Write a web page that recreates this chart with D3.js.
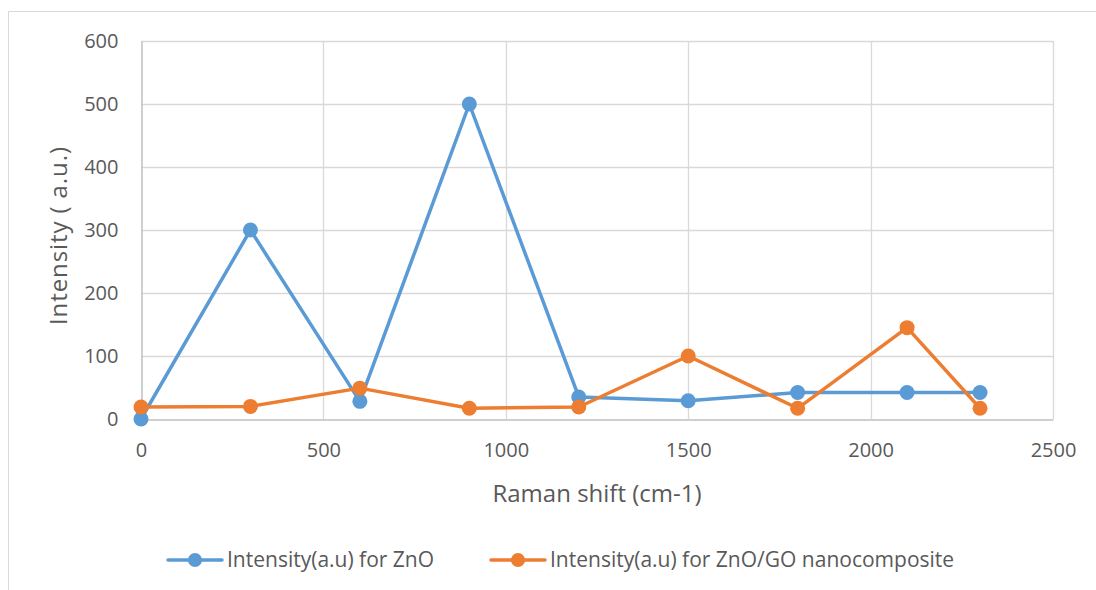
<!DOCTYPE html>
<html>
<head>
<meta charset="utf-8">
<script src="https://cdn.jsdelivr.net/npm/d3@7"></script>
<style>
  html, body { margin: 0; padding: 0; background: #fff; }
  svg { display: block; font-family: "Open Sans", "Liberation Sans", sans-serif; }
</style>
</head>
<body>
<svg id="chart" width="1096" height="590"></svg>
<script>
// Raman shift positions (cm-1)
const ramanShift = [0, 300, 600, 900, 1200, 1500, 1800, 2100, 2300];
// Intensity values (a.u.)
const intensityZnO = [0, 300, 28, 500, 35, 29, 42, 42, 42];
const intensityZnOGO = [19, 20, 49, 17, 19, 100, 17, 145, 17];
const xTicks = [0, 500, 1000, 1500, 2000, 2500];
const yTicks = [0, 100, 200, 300, 400, 500, 600];
const seriesNames = ["Intensity(a.u) for ZnO", "Intensity(a.u) for ZnO/GO nanocomposite"];
const seriesColors = ["#5b9bd5", "#ed7d31"];

const svg = d3.select("#chart");

// chart frame
svg.append("path")
  .attr("d", "M8.5,590 V11.5 H1096")
  .attr("fill", "none")
  .attr("stroke", "#d9d9d9")
  .attr("stroke-width", 1);

const x = d3.scaleLinear().domain([0, 2500]).range([141, 1053]);
const y = d3.scaleLinear().domain([0, 600]).range([419, 41]);

// gridlines
const grid = svg.append("g");
grid.selectAll("line.h").data(yTicks.slice(1)).join("line")
  .attr("x1", x(0)).attr("x2", x(2500))
  .attr("y1", d => Math.round(y(d)) + 0.5).attr("y2", d => Math.round(y(d)) + 0.5)
  .attr("stroke", "#d9d9d9").attr("stroke-width", 1.3);
grid.selectAll("line.v").data(xTicks.slice(1)).join("line")
  .attr("y1", y(0)).attr("y2", y(600))
  .attr("x1", d => Math.round(x(d)) + 0.5).attr("x2", d => Math.round(x(d)) + 0.5)
  .attr("stroke", "#d9d9d9").attr("stroke-width", 1.3);

// axes
const fmt = d3.format("d");
const xAxis = svg.append("g").attr("transform", `translate(0,${Math.round(y(0)) + 0.5})`)
  .call(d3.axisBottom(x).tickValues(xTicks).tickFormat(fmt).tickSize(0).tickPadding(23));
const yAxis = svg.append("g").attr("transform", `translate(${Math.round(x(0)) + 0.5},0)`)
  .call(d3.axisLeft(y).tickValues(yTicks).tickFormat(fmt).tickSize(0).tickPadding(23));
[xAxis, yAxis].forEach(a => {
  a.select(".domain").attr("stroke", "#bfbfbf").attr("stroke-width", 1.5);
  a.selectAll("text").attr("fill", "#595959").style("font-size", "20px")
    .style("font-family", "\"Open Sans\", \"Liberation Sans\", sans-serif");
});
xAxis.selectAll("text").attr("dy", "0.71em");

// axis titles
svg.append("text")
  .attr("x", 597).attr("y", 502)
  .attr("text-anchor", "middle")
  .attr("fill", "#595959").style("font-size", "24px")
  .text("Raman shift (cm-1)");
svg.append("text")
  .attr("transform", "translate(67,236) rotate(-90)")
  .attr("text-anchor", "middle")
  .attr("fill", "#595959").style("font-size", "24px")
  .attr("textLength", 178).attr("lengthAdjust", "spacing")
  .text("Intensity ( a.u.)");

// series
const line = d3.line().x(d => x(d[0])).y(d => y(d[1]));
[intensityZnO, intensityZnOGO].forEach((vals, i) => {
  const pts = ramanShift.map((s, j) => [s, vals[j]]);
  const g = svg.append("g");
  g.append("path").datum(pts)
    .attr("d", line)
    .attr("fill", "none")
    .attr("stroke", seriesColors[i])
    .attr("stroke-width", 3.5)
    .attr("stroke-linejoin", "round");
  g.selectAll("circle").data(pts).join("circle")
    .attr("cx", d => x(d[0])).attr("cy", d => y(d[1]))
    .attr("r", 7.5)
    .attr("fill", seriesColors[i]);
});

// legend
const legendX = [168, 491];
legendX.forEach((lx, i) => {
  const g = svg.append("g").attr("transform", `translate(${lx},560)`);
  g.append("line").attr("x1", 0).attr("x2", 54).attr("y1", 0).attr("y2", 0)
    .attr("stroke", seriesColors[i]).attr("stroke-width", 3.5).attr("stroke-linecap", "round");
  g.append("circle").attr("cx", 27).attr("cy", 0).attr("r", 7).attr("fill", seriesColors[i]);
  g.append("text").attr("x", 59).attr("y", 0).attr("dy", "0.35em")
    .attr("fill", "#595959").style("font-size", "21px")
    .text(seriesNames[i]);
});
</script>
</body>
</html>
